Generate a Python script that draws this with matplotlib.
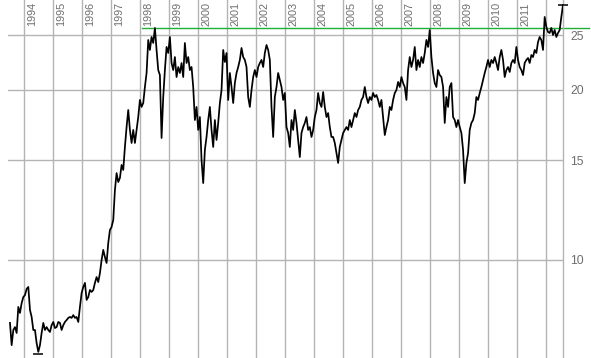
import numpy as np
import pandas as pd
import matplotlib
matplotlib.use("Agg")
import matplotlib.pyplot as plt
import matplotlib.dates as mdates
import matplotlib.transforms as mtransforms

plt.rcParams["font.family"] = ["Liberation Sans", "DejaVu Sans"]

price = [
    7.72, 7.05, 7.50, 7.59, 7.41, 8.24, 8.04, 8.37, 8.58, 8.65,
    8.87, 8.94, 8.14, 7.91, 7.50, 7.50, 7.11, 6.86, 7.05, 7.41,
    7.72, 7.50, 7.59, 7.50, 7.44, 7.65, 7.75, 7.56, 7.59, 7.75,
    7.72, 7.50, 7.65, 7.75, 7.81, 7.88, 7.91, 7.88, 7.97, 7.88,
    7.91, 7.75, 8.24, 8.72, 8.94, 9.09, 8.48, 8.58, 8.83, 8.76,
    8.83, 9.09, 9.31, 9.12, 9.46, 9.98, 10.40, 10.10, 9.86, 10.70,
    11.28, 11.42, 11.75, 13.28, 14.23, 13.72, 13.95, 14.71, 14.41, 15.83,
    17.17, 18.41, 16.97, 16.09, 16.97, 16.09, 16.97, 17.89, 19.18, 18.64,
    18.94, 20.22, 21.41, 24.50, 23.52, 24.80, 24.20, 25.73, 23.52, 21.67,
    21.23, 16.42, 19.41, 21.67, 23.81, 23.23, 24.80, 22.30, 21.67, 22.85,
    21.06, 21.94, 21.41, 22.30, 21.06, 24.20, 22.30, 22.85, 21.67, 21.94,
    20.22, 17.67, 18.64, 16.97, 17.89, 15.01, 13.66, 15.64, 16.49, 17.67,
    18.64, 16.97, 15.83, 17.67, 16.29, 17.46, 18.94, 19.97, 23.52, 22.39,
    23.23, 19.18, 21.41, 20.22, 18.94, 20.55, 21.41, 21.94, 22.58, 23.71,
    22.85, 22.58, 21.94, 19.41, 18.64, 19.97, 21.06, 21.67, 21.06, 21.94,
    22.30, 22.58, 21.94, 23.23, 24.00, 23.52, 22.58, 18.64, 16.49, 19.41,
    20.22, 21.41, 20.81, 20.22, 19.18, 19.73, 17.17, 16.76, 15.83, 17.67,
    16.97, 18.41, 17.46, 16.29, 15.19, 16.76, 17.17, 17.46, 17.89, 16.97,
    17.17, 16.49, 16.97, 17.89, 18.41, 19.73, 18.94, 18.64, 19.81, 18.64,
    17.89, 18.18, 17.17, 16.49, 16.49, 16.09, 15.44, 14.83, 15.83, 16.29,
    16.76, 16.97, 17.17, 16.97, 17.67, 17.17, 17.67, 18.18, 17.89, 18.41,
    18.64, 19.18, 19.41, 20.22, 19.41, 18.94, 19.41, 19.18, 19.73, 19.41,
    19.57, 19.18, 18.64, 19.18, 17.89, 16.62, 17.17, 17.67, 18.64, 18.41,
    19.18, 19.73, 19.97, 20.64, 20.22, 21.06, 20.55, 20.22, 19.18, 21.67,
    22.85, 21.94, 22.58, 23.81, 21.67, 22.58, 21.94, 22.85, 22.30, 23.23,
    24.50, 23.81, 25.52, 22.85, 21.41, 20.55, 20.22, 21.67, 21.23, 21.06,
    20.22, 17.46, 19.41, 18.64, 20.22, 20.55, 17.89, 17.67, 17.17, 17.67,
    17.17, 16.76, 15.64, 13.66, 14.83, 15.44, 16.97, 17.46, 17.67, 18.18,
    19.41, 19.18, 19.73, 20.22, 20.81, 21.41, 21.94, 22.58, 21.94, 22.58,
    22.30, 22.85, 22.30, 21.67, 22.85, 23.52, 22.58, 21.06, 21.67, 21.94,
    21.50, 22.30, 22.58, 22.30, 23.81, 22.58, 21.94, 21.67, 21.23, 22.30,
    22.58, 22.76, 22.30, 23.04, 22.85, 23.52, 23.23, 24.30, 24.80, 24.50,
    23.52, 26.91, 25.83, 25.31, 25.21, 25.73, 25.00, 25.52, 24.80, 25.21,
    25.52, 26.91, 28.26,
]
start_date = "1993-07-04"
step = "21D"

years = list(range(1994, 2013))
year_labels = [str(y) for y in range(1994, 2012)]
y_ticks = [10, 15, 20, 25]
resistance = 25.73
resistance_from = "1998-01-20"
resistance_to = "2013-07-01"

dates = pd.date_range(start_date, periods=len(price), freq=step)
price = np.array(price)

grid_col = "#b4b4b4"
text_col = "#6e6e6e"

fig = plt.figure(figsize=(5.91, 3.58), dpi=100)
ax = fig.add_axes([8 / 591, 0, 555 / 591, 1])

ax.set_yscale("log")
ax.set_ylim(6.69, 28.84)
ax.set_xlim(pd.Timestamp(start_date) - pd.Timedelta(days=25), dates[-1])

# griglia orizzontale e linee degli anni
for v in y_ticks:
    ax.axhline(v, color=grid_col, lw=1.0, zorder=1)
for y in years:
    ax.axvline(pd.Timestamp(f"{y}-01-01"), color=grid_col, lw=1.0, zorder=1)

# etichette anni in alto
trans = mtransforms.blended_transform_factory(ax.transData, ax.transAxes)
for lab in year_labels:
    xd = mdates.date2num(pd.Timestamp(f"{lab}-01-01"))
    ax.annotate(lab, xy=(xd, 1.0), xycoords=trans,
                xytext=(2.3, -1.5), textcoords="offset points",
                rotation=90, ha="left", va="top", fontsize=7.8, color=text_col)

# linea di resistenza
ax.plot([pd.Timestamp(resistance_from), pd.Timestamp(resistance_to)],
        [resistance, resistance], color="#1fb03a", lw=1.0, clip_on=False, zorder=2)

# serie prezzo
ax.plot(dates, price, color="black", lw=1.25, zorder=3)

# min e max
i_min = int(np.argmin(price))
i_max = int(np.argmax(price))
ax.plot([dates[i_min]], [price[i_min] * 0.99], marker="_", ms=7.5, mew=1.1,
        color="black", zorder=4, clip_on=False)
ax.plot([dates[i_max]], [price[i_max]], marker="_", ms=7.5, mew=1.1,
        color="black", zorder=4, clip_on=False)

# asse y a destra
ax.yaxis.tick_right()
ax.set_yticks(y_ticks)
ax.set_yticklabels([str(v) for v in y_ticks])
ax.yaxis.set_minor_locator(matplotlib.ticker.NullLocator())
ax.tick_params(axis="y", length=0, pad=5, labelsize=8.8, labelcolor=text_col)
ax.set_xticks([])

for s in ["left", "top", "bottom"]:
    ax.spines[s].set_visible(False)
ax.spines["right"].set_color(grid_col)
ax.spines["right"].set_linewidth(1.0)

fig.savefig("out.png", dpi=100)
